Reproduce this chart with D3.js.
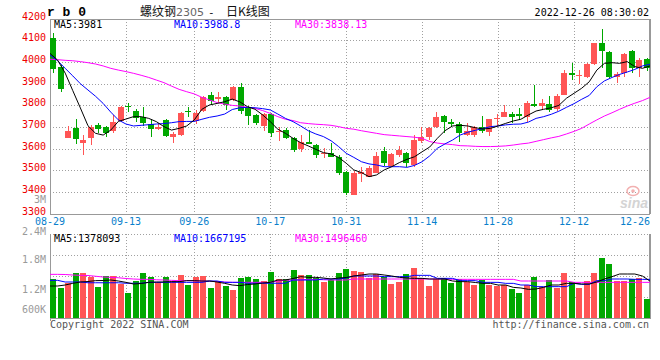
<!DOCTYPE html>
<html><head><meta charset="utf-8">
<script src="https://cdn.jsdelivr.net/npm/d3@7/dist/d3.min.js"></script>
<style>body{margin:0;background:#fff}svg{display:block}</style>
</head><body><svg id="c" width="660" height="360"></svg>
<script>
const dates = ["08-29","08-30","08-31","09-01","09-02","09-05","09-06","09-07","09-08","09-09",
"09-13","09-14","09-15","09-16","09-19","09-20","09-21","09-22","09-23","09-26",
"09-27","09-28","09-29","09-30","10-10","10-11","10-12","10-13","10-14","10-17",
"10-18","10-19","10-20","10-21","10-24","10-25","10-26","10-27","10-28","10-31",
"11-01","11-02","11-03","11-04","11-07","11-08","11-09","11-10","11-11","11-14",
"11-15","11-16","11-17","11-18","11-21","11-22","11-23","11-24","11-25","11-28",
"11-29","11-30","12-01","12-02","12-05","12-06","12-07","12-08","12-09","12-12",
"12-13","12-14","12-15","12-16","12-19","12-20","12-21","12-22","12-23","12-26"];
const open = [4108,3978,3650,3695,3627,3649,3708,3699,3681,3728,
3796,3775,3747,3713,3689,3732,3652,3661,3775,3728,
3775,3847,3830,3836,3824,3882,3790,3755,3704,3759,
3675,3685,3647,3598,3632,3616,3573,3581,3562,3493,
3386,3482,3470,3489,3589,3519,3570,3578,3524,3636,
3652,3698,3750,3722,3713,3662,3662,3698,3678,3735,
3747,3759,3759,3744,3805,3796,3805,3781,3847,3947,
3935,3928,3990,4085,4045,3932,3947,4050,3970,4011];
const high = [4131,3985,3704,3735,3662,3708,3716,3704,3756,3796,
3808,3781,3790,3735,3716,3735,3678,3770,3790,3778,
3842,3862,3862,3842,3888,3901,3796,3759,3762,3762,
3701,3693,3655,3662,3685,3621,3601,3627,3570,3496,
3498,3516,3519,3585,3609,3578,3612,3585,3662,3701,
3701,3770,3755,3738,3724,3716,3704,3750,3738,3759,
3801,3770,3787,3821,3893,3827,3842,3852,3962,3993,
3962,3993,4088,4150,4050,3955,4042,4053,4016,4016];
const low = [3947,3862,3650,3621,3570,3616,3670,3652,3670,3724,
3770,3724,3704,3655,3685,3652,3627,3658,3747,3713,
3770,3801,3808,3778,3821,3759,3709,3709,3682,3655,
3636,3642,3585,3585,3619,3555,3555,3559,3478,3386,
3384,3447,3467,3486,3519,3513,3562,3516,3516,3627,
3639,3693,3670,3698,3632,3658,3652,3673,3658,3704,
3744,3716,3732,3724,3790,3778,3770,3775,3845,3916,
3898,3924,3985,3973,3924,3901,3928,3950,3931,3959];
const close = [3965,3873,3681,3644,3639,3698,3690,3673,3722,3793,
3790,3742,3719,3689,3701,3658,3665,3765,3767,3765,
3836,3819,3836,3801,3882,3775,3750,3719,3758,3673,
3681,3647,3593,3632,3621,3570,3581,3562,3489,3396,
3489,3493,3509,3566,3535,3575,3593,3535,3639,3652,
3693,3744,3724,3713,3670,3681,3698,3682,3735,3741,
3768,3747,3750,3812,3796,3808,3778,3842,3947,3938,
3941,3990,4085,4051,3928,3944,4036,3970,4008,3970];
const volume = [1420000,1240000,1346000,1540000,1533000,1467000,1260000,1487000,1487000,1327000,
1147000,1373000,1540000,1460000,1360000,1460000,1387000,1507000,1307000,1460000,
1487000,1240000,1367000,1280000,1207000,1440000,1460000,1420000,1373000,1560000,
1420000,1420000,1600000,1507000,1507000,1440000,1367000,1400000,1540000,1620000,
1587000,1560000,1440000,1520000,1467000,1327000,1360000,1520000,1640000,1440000,
1287000,1420000,1440000,1347000,1420000,1360000,1307000,1400000,1307000,1287000,
1307000,1220000,1140000,1300000,1460000,1267000,1400000,1247000,1540000,1367000,
1240000,1380000,1540000,1840000,1720000,1380000,1380000,1420000,1440000,1020000];
const ma5 = [4039,4008,3948,3867,3787,3705,3670,3662,3685,3725,
3736,3747,3747,3739,3724,3701,3685,3693,3704,3732,
3781,3801,3808,3816,3828,3815,3793,3781,3755,3724,
3689,3670,3647,3627,3612,3596,3581,3575,3559,3532,
3501,3489,3470,3478,3501,3516,3535,3550,3562,3585,
3607,3647,3682,3704,3707,3704,3696,3690,3693,3704,
3716,3727,3735,3755,3773,3781,3788,3799,3832,3855,
3878,3908,3962,3993,3996,3993,4001,3978,3970,3981];
const ma10 = [4031,4005,3970,3935,3899,3870,3841,3808,3768,3732,
3713,3704,3707,3710,3713,3715,3719,3724,3725,3725,
3735,3744,3750,3759,3780,3788,3790,3788,3784,3778,
3759,3739,3724,3704,3682,3667,3655,3636,3609,3578,
3559,3539,3529,3524,3516,3516,3516,3513,3522,3539,
3566,3601,3621,3639,3662,3675,3684,3692,3701,3704,
3709,3712,3713,3722,3739,3747,3758,3772,3790,3807,
3827,3845,3885,3912,3928,3942,3953,3965,3981,3989];
const ma30 = [4012,4010,4007,4005,4001,3996,3990,3981,3970,3962,
3955,3947,3938,3928,3916,3904,3888,3873,3862,3852,
3836,3824,3812,3805,3799,3796,3790,3785,3775,3762,
3747,3735,3729,3719,3715,3712,3710,3707,3701,3693,
3689,3682,3676,3670,3664,3661,3658,3655,3652,3647,
3632,3625,3621,3618,3613,3612,3610,3609,3609,3610,
3612,3616,3621,3625,3633,3641,3649,3656,3667,3679,
3693,3713,3732,3750,3765,3781,3796,3809,3821,3836];
const volMa5 = [1280000,1280000,1300000,1333000,1360000,1370000,1387000,1390000,1400000,1380000,
1353000,1320000,1330000,1353000,1360000,1360000,1367000,1367000,1387000,1387000,
1380000,1380000,1360000,1333000,1300000,1287000,1310000,1320000,1340000,1353000,
1400000,1400000,1430000,1467000,1453000,1453000,1440000,1420000,1440000,1450000,
1480000,1500000,1520000,1520000,1500000,1480000,1453000,1440000,1433000,1433000,
1420000,1420000,1420000,1380000,1367000,1367000,1350000,1333000,1333000,1300000,
1300000,1253000,1240000,1213000,1220000,1253000,1300000,1300000,1333000,1333000,
1320000,1320000,1360000,1420000,1467000,1520000,1520000,1520000,1480000,1378093];
const volMa10 = [1393000,1393000,1360000,1360000,1360000,1345000,1345000,1345000,1345000,1345000,
1335000,1335000,1335000,1353000,1353000,1353000,1353000,1353000,1353000,1353000,
1353000,1380000,1380000,1353000,1353000,1353000,1335000,1335000,1335000,1335000,
1335000,1335000,1400000,1400000,1400000,1400000,1420000,1420000,1420000,1440000,
1480000,1480000,1480000,1480000,1467000,1467000,1467000,1467000,1493000,1493000,
1493000,1433000,1433000,1433000,1387000,1387000,1387000,1353000,1353000,1353000,
1333000,1333000,1300000,1300000,1267000,1267000,1267000,1267000,1267000,1333000,
1313000,1313000,1387000,1387000,1420000,1420000,1420000,1413000,1413000,1413000];
const volMa30 = [1513000,1513000,1510000,1500000,1493000,1490000,1475000,1460000,1453000,1445000,
1430000,1420000,1413000,1413000,1405000,1400000,1393000,1387000,1387000,1385000,
1380000,1375000,1370000,1360000,1353000,1353000,1353000,1353000,1353000,1353000,
1380000,1395000,1400000,1405000,1413000,1413000,1405000,1400000,1400000,1400000,
1420000,1420000,1420000,1420000,1420000,1420000,1420000,1420000,1420000,1420000,
1420000,1420000,1420000,1413000,1413000,1413000,1413000,1413000,1413000,1413000,
1413000,1413000,1380000,1380000,1380000,1380000,1380000,1380000,1380000,1353000,
1353000,1353000,1353000,1353000,1353000,1353000,1353000,1353000,1353000,1353000];
const priceTicks = [4200,4100,4000,3900,3800,3700,3600,3500,3400,3300];
const volTicks = [3000000,2400000,1800000,1200000,600000];
const volTickLabels = ["3M","2.4M","1.8M","1.2M","600K"];
const dateTicks = ["08-29","09-13","09-26","10-17","10-31","11-14","11-28","12-12","12-26"];
const priceHeader = ["MA5:3981","MA10:3988.8","MA30:3838.13"];
const volHeader = ["MA5:1378093","MA10:1667195","MA30:1496460"];

const L=50, R=650, mainTop=19, mainBot=213.5, volTop=234, volBot=318;
const RED="#ff5555", GREEN="#00a800", GRID="#a0a0a0", BORDER="#999";
const MONO="'DejaVu Sans Mono', 'Liberation Mono', monospace";
const svg = d3.select("#c");
const n = dates.length;
const xBand = d3.scaleBand().domain(d3.range(n)).range([L,R]).paddingInner(0.2);
const xLin = d3.scaleLinear().domain([0,n-1]).range([L,R]);
const y = d3.scaleLinear().domain([3300,4200]).range([mainBot,18.5]);
const yv = d3.scaleLinear().domain([600000,2400000]).range([320,230]);
const px = v => Math.round(v)+0.5;

const defs = svg.append("defs");
defs.append("clipPath").attr("id","cm").append("rect").attr("x",L).attr("y",mainTop).attr("width",R-L).attr("height",mainBot-mainTop);
defs.append("clipPath").attr("id","cv").append("rect").attr("x",L).attr("y",volTop).attr("width",R-L).attr("height",volBot-volTop);

// grid
const g = svg.append("g").attr("stroke",GRID).attr("stroke-dasharray","1,2").attr("shape-rendering","crispEdges");
priceTicks.filter(t=>t<4200 && t>3300).forEach(t=>{
  g.append("line").attr("x1",L).attr("x2",R).attr("y1",px(y(t))).attr("y2",px(y(t)));
});
const vq = d3.scaleLinear().domain([0,4]).range([volTop,volBot]);
[1,2,3].forEach(k=>{
  g.append("line").attr("x1",L).attr("x2",R).attr("y1",px(vq(k))).attr("y2",px(vq(k)));
});
g.append("line").attr("x1",L).attr("x2",R).attr("y1",px(volTop)).attr("y2",px(volTop));
const tickIdx = dateTicks.map(d=>dates.indexOf(d));
tickIdx.forEach((i,k)=>{
  if(k===0 || k===tickIdx.length-1) return;
  const xx = px(xLin(i));
  g.append("line").attr("x1",xx).attr("x2",xx).attr("y1",mainTop).attr("y2",mainBot);
  g.append("line").attr("x1",xx).attr("x2",xx).attr("y1",volTop).attr("y2",volBot+3);
});

// borders
const b = svg.append("g").attr("stroke",BORDER).attr("shape-rendering","crispEdges").attr("fill","none");
b.append("line").attr("x1",L).attr("x2",R).attr("y1",px(mainTop)).attr("y2",px(mainTop));
b.append("line").attr("x1",L).attr("x2",R).attr("y1",px(mainBot)).attr("y2",px(mainBot));
b.append("line").attr("x1",px(L)).attr("x2",px(L)).attr("y1",mainTop).attr("y2",mainBot);
b.append("line").attr("x1",R).attr("x2",R).attr("y1",mainTop).attr("y2",mainBot).attr("stroke-width",2);
b.append("line").attr("x1",L).attr("x2",R).attr("y1",px(volBot)).attr("y2",px(volBot));
b.append("line").attr("x1",px(L)).attr("x2",px(L)).attr("y1",volTop).attr("y2",volBot+3);
b.append("line").attr("x1",R).attr("x2",R).attr("y1",volTop).attr("y2",volBot+1).attr("stroke-width",2);

// watermark
const wm = svg.append("g");
wm.append("ellipse").attr("cx",633).attr("cy",191).attr("rx",6).attr("ry",4.5).attr("fill","none").attr("stroke","#f2b0b0").attr("stroke-width",1.5);
wm.append("circle").attr("cx",633).attr("cy",191).attr("r",1.8).attr("fill","#f2b0b0");
wm.append("text").attr("x",648).attr("y",208).attr("text-anchor","end").attr("font-family","Arial, 'Liberation Sans', sans-serif")
  .attr("font-size",14).attr("font-style","italic").attr("font-weight","bold").attr("fill","#d4d4d4").text("sina");

// candles
const cg = svg.append("g").attr("clip-path","url(#cm)").attr("shape-rendering","crispEdges");
d3.range(n).forEach(i=>{
  const up = close[i] >= open[i];
  const col = up ? RED : GREEN;
  const x0 = Math.round(xBand(i));
  const w = Math.round(xBand.bandwidth());
  cg.append("line").attr("x1",x0+Math.floor(w/2)+0.5).attr("x2",x0+Math.floor(w/2)+0.5)
    .attr("y1",y(high[i])).attr("y2",y(low[i])).attr("stroke",col);
  const yt = y(Math.max(open[i],close[i])), yb = y(Math.min(open[i],close[i]));
  cg.append("rect").attr("x",x0).attr("width",w).attr("y",yt).attr("height",Math.max(1,yb-yt)).attr("fill",col);
});

// MA lines main
const lineP = d3.line().x((d,i)=>xLin(i)).y(d=>y(d));
const mg = svg.append("g").attr("clip-path","url(#cm)").attr("fill","none").attr("stroke-width",1);
mg.append("path").attr("d",lineP(ma30)).attr("stroke","#ff00ff");
mg.append("path").attr("d",lineP(ma10)).attr("stroke","#0000ff");
mg.append("path").attr("d",lineP(ma5)).attr("stroke","#000");

// volume bars
const vg = svg.append("g").attr("clip-path","url(#cv)").attr("shape-rendering","crispEdges");
d3.range(n).forEach(i=>{
  const up = close[i] >= open[i];
  const x0 = Math.round(xBand(i));
  const w = Math.round(xBand.bandwidth());
  const yt = yv(volume[i]);
  vg.append("rect").attr("x",x0).attr("width",w).attr("y",yt).attr("height",volBot-yt).attr("fill",up?RED:GREEN);
});
const lineV = d3.line().x((d,i)=>xLin(i)).y(d=>yv(d));
const vmg = svg.append("g").attr("clip-path","url(#cv)").attr("fill","none").attr("stroke-width",1);
vmg.append("path").attr("d",lineV(volMa30)).attr("stroke","#ff00ff");
vmg.append("path").attr("d",lineV(volMa10)).attr("stroke","#0000ff");
vmg.append("path").attr("d",lineV(volMa5)).attr("stroke","#000");

// axis labels
const t = svg.append("g").attr("font-family",MONO).attr("font-size",10);
priceTicks.forEach(v=>{
  t.append("text").attr("x",46).attr("y",y(v)+1).attr("text-anchor","end").attr("fill","#ee0000").text(v);
});
volTicks.forEach((v,k)=>{
  t.append("text").attr("x",46).attr("y",Math.max(200,Math.min(310,yv(v)))+(k===1?1.5:0)).attr("dy","0.3em")
    .attr("text-anchor","end").attr("fill","#9a9a9a").text(volTickLabels[k]);
});
tickIdx.forEach((i,k)=>{
  t.append("text").attr("x",xLin(i)).attr("y",224.5).attr("text-anchor",k===tickIdx.length-1?"end":"middle")
    .attr("fill","#0a7fcc").text(dateTicks[k]);
});

// headers
const hx = [54,174,295], hc = ["#000","#0000ff","#ff00ff"];
priceHeader.forEach((s,k)=>t.append("text").attr("x",hx[k]).attr("y",27.5).attr("fill",hc[k]).text(s));
volHeader.forEach((s,k)=>t.append("text").attr("x",hx[k]).attr("y",241.5).attr("fill",hc[k]).text(s));

// title
svg.append("text").attr("x",47).attr("y",16).attr("font-family","'Liberation Mono', monospace").attr("font-weight","bold")
  .attr("font-size",13).attr("fill","#000").text("r b 0");
const CJK = "'Noto Sans CJK SC', sans-serif";
svg.append("text").attr("x",140).attr("y",16).attr("font-family",CJK).attr("font-size",12).attr("fill","#111").text("螺纹钢");
svg.append("text").attr("x",176).attr("y",16).attr("font-family","'DejaVu Sans', sans-serif").attr("font-size",11).attr("fill","#666").text("2305");
svg.append("text").attr("x",208).attr("y",16).attr("font-family",MONO).attr("font-size",11).attr("fill","#111").text("-");
svg.append("text").attr("x",226).attr("y",16).attr("font-family",CJK).attr("font-size",12).attr("fill","#111").text("日K线图");
t.append("text").attr("x",649).attr("y",16).attr("text-anchor","end").attr("fill","#000").text("2022-12-26 08:30:02");

// footer
t.append("text").attr("x",50).attr("y",328).attr("fill","#555").text("Copyright 2022 SINA.COM");
t.append("text").attr("x",649).attr("y",328).attr("text-anchor","end").attr("fill","#555").text("http://finance.sina.com.cn");
</script></body></html>
